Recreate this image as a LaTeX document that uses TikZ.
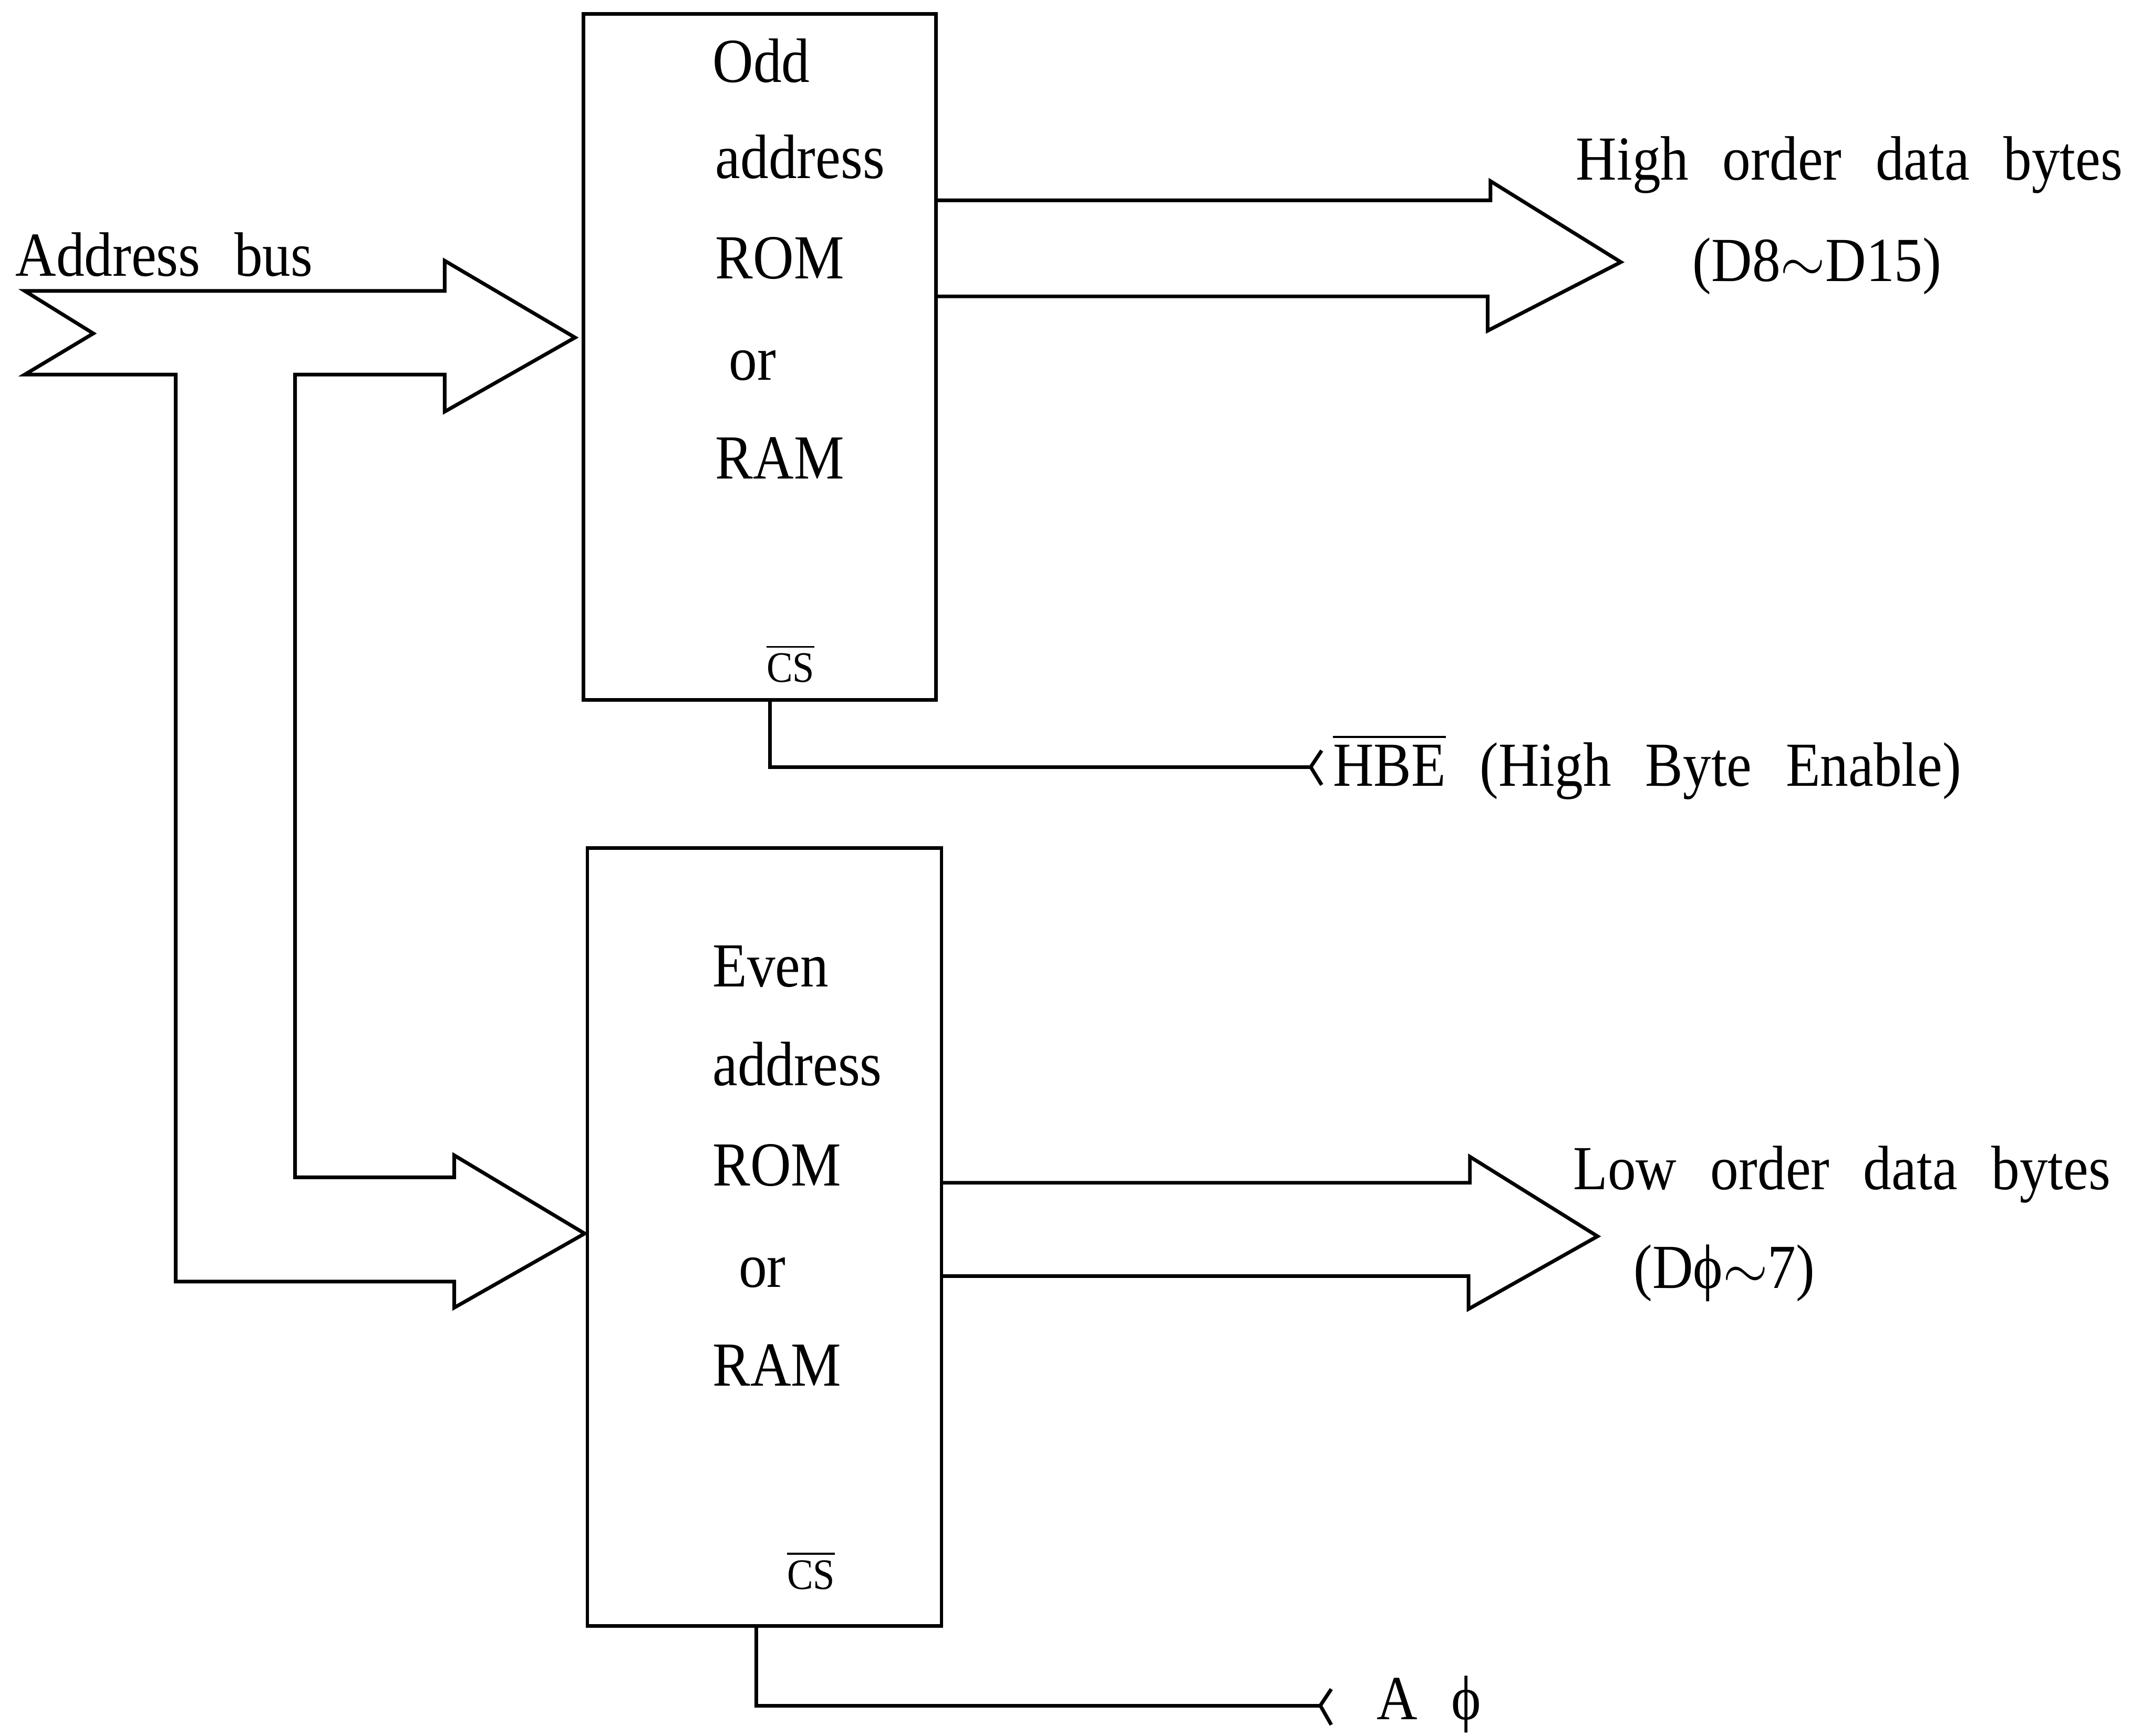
\documentclass[tikz,border=0pt]{standalone}
\usepackage{amsmath}
\usepackage{fontspec}
\setmainfont{Liberation Serif}[FakeStretch=0.9, WordSpace=2.4]
\usetikzlibrary{calc}

\begin{document}
\begin{tikzpicture}[
    x=0.1mm, y=-0.1mm,
    line width=0.75pt,
    every node/.style={font=\fontsize{13}{15}\selectfont, inner sep=0pt},
    membox/.style={draw, minimum width=2.57cm, minimum height=5cm},
    lbl/.style={anchor=base west},
    cslbl/.style={anchor=base, font=\fontsize{9}{10}\selectfont},
]
  \useasboundingbox (0,0) rectangle (1568,1265);

  % memory chips
  \node[membox] (oddmem) at (553.5,260) {};
  \node[membox, minimum width=2.58cm, minimum height=5.67cm] (evenmem) at (557,901.5) {};

  \node[lbl] (oddl1) at (518,60)  {Odd};
  \node[lbl] (oddl2) at (520,130) {address};
  \node[lbl] (oddl3) at (520,203) {ROM};
  \node[lbl] (oddl4) at (530,277) {or};
  \node[lbl] (oddl5) at (520,349) {RAM};
  \node[cslbl] (oddcs) at (576,497) {$\overline{\text{CS}}$};

  \node[lbl] (evenl1) at (518,719)  {Even};
  \node[lbl] (evenl2) at (518,791)  {address};
  \node[lbl] (evenl3) at (518,864)  {ROM};
  \node[lbl] (evenl4) at (537,938)  {or};
  \node[lbl] (evenl5) at (518,1010) {RAM};
  \node[cslbl] (evencs) at (591,1158) {$\overline{\text{CS}}$};

  % address bus
  \node[lbl] (bus) at (10,201) {Address bus};
  \draw (18,212) -- (324,212) -- (324,190) -- (419,246) -- (324,300) -- (324,273)
    -- (215,273) -- (215,858) -- (331,858) -- (331,842) -- (426,899)
    -- (331,953) -- (331,934) -- (128,934) -- (128,273) -- (18,273)
    -- (68,243) -- cycle;

  % data buses
  \draw (682,146) -- (1086,146) -- (1086,132) -- (1181,191) -- (1084,241)
    -- (1084,216) -- (682,216);
  \node[lbl] (hi) at (1147,131) {High order data bytes};
  \node[lbl] (hirange) at (1232,205) {(D8$\sim$D15)};

  \draw (686,862) -- (1071,862) -- (1071,843) -- (1164,901) -- (1070,954)
    -- (1070,930) -- (686,930);
  \node[lbl] (lo) at (1145,867) {Low order data bytes};
  \node[lbl] (lorange) at (1189,939) {(Dϕ$\sim$7)};

  % chip selects
  \coordinate (oddpin) at (561,510);
  \coordinate (hbeend) at (955,559);
  \node[lbl] (hbe) at (970,573) {$\overline{\text{HBE}}$ (High Byte Enable)};
  \draw (oddpin) |- (hbeend);
  \draw ($(hbeend)+(8,-12)$) -- (hbeend) -- ++(8,13);

  \coordinate (evenpin) at (551,1185);
  \coordinate (a0end) at (962,1243);
  \node[lbl] (azero) at (1002,1253) {A ϕ};
  \draw (evenpin) |- (a0end);
  \draw ($(a0end)+(8,-12)$) -- (a0end) -- ++(8,14);
\end{tikzpicture}
\end{document}
